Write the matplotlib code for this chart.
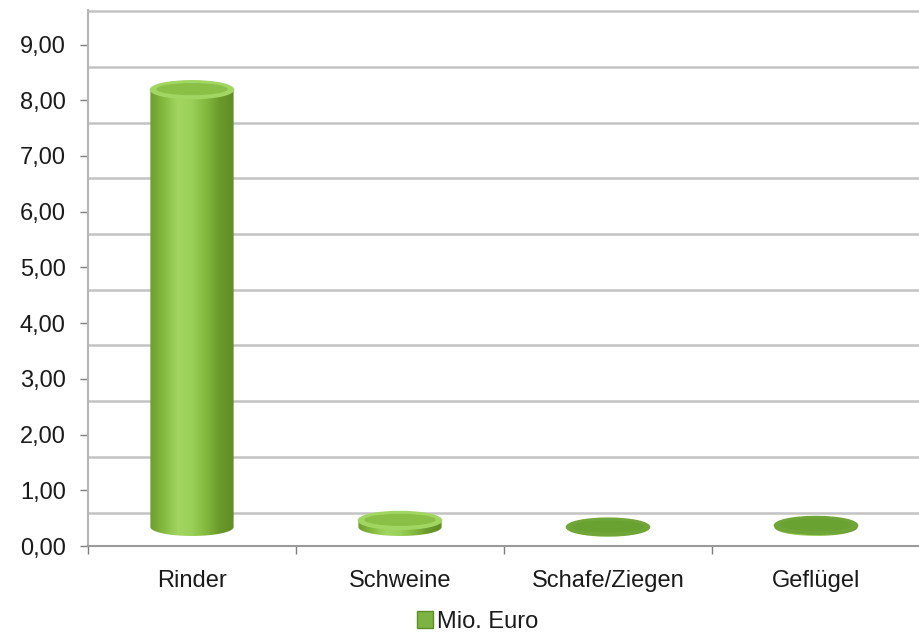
import numpy as np
import matplotlib
matplotlib.use('Agg')
import matplotlib.pyplot as plt
from matplotlib.patches import Ellipse, PathPatch, Patch
from matplotlib.path import Path
from matplotlib.colors import LinearSegmentedColormap

plt.rcParams['font.family'] = ['Liberation Sans', 'DejaVu Sans']

categories = ['Rinder', 'Schweine', 'Schafe/Ziegen', 'Geflügel']
values = [7.85, 0.12, 0.0, 0.03]
yticks = np.arange(0, 10)
legend_label = 'Mio. Euro'

depth = 0.6          # 3D back wall offset (in y units)
base = 0.34          # cylinders stand roughly in the middle of the floor
bar_w = 0.4
ell_h = 0.32

body_cmap = LinearSegmentedColormap.from_list(
    'cyl', ['#6c9e2c', '#86bb42', '#a2d661', '#9bd058', '#84b93f', '#6a9a2b', '#5f8d25'])

fig = plt.figure(figsize=(9.2, 6.37), dpi=100)
ax = fig.add_axes([88 / 920, 91 / 637, 832 / 920, 536 / 637])

# back wall gridlines (shifted up by the wall depth)
for v in yticks:
    ax.axhline(v + depth, color='#c3c3c3', lw=1.8, zorder=1)

grad = np.linspace(0, 1, 200).reshape(1, -1)
for i, val in enumerate(values):
    x0, x1 = i - bar_w / 2, i + bar_w / 2
    top = base + val
    t = np.linspace(np.pi, 2 * np.pi, 60)
    xs = i + bar_w / 2 * np.cos(t)
    ys = base + ell_h / 2 * np.sin(t)
    verts = list(zip(xs, ys)) + [(x1, top), (x0, top), (xs[0], ys[0])]
    codes = [Path.MOVETO] + [Path.LINETO] * (len(verts) - 2) + [Path.CLOSEPOLY]
    clip = PathPatch(Path(verts, codes), facecolor='none', edgecolor='none')
    ax.add_patch(clip)
    im = ax.imshow(grad, cmap=body_cmap, aspect='auto', zorder=3,
                   extent=(x0, x1, base - ell_h / 2, top), interpolation='bilinear')
    im.set_clip_path(clip)
    if val < 0.1:
        rim, face = '#6fa637', '#6aa232'
    else:
        rim, face = '#a2d662', '#8bc047'
    ax.add_patch(Ellipse((i, top), bar_w, ell_h, facecolor=rim,
                         edgecolor=rim, lw=1.0, zorder=4))
    ax.add_patch(Ellipse((i, top + 0.01), bar_w * 0.86, ell_h * 0.68,
                         facecolor=face, edgecolor='none', zorder=5))

ax.set_xlim(-0.5, len(categories) - 0.5)
ax.set_ylim(0, yticks[-1] + depth + 0.02)
ax.set_yticks(yticks)
ax.set_yticklabels([f'{v:.2f}'.replace('.', ',') for v in yticks])
ax.set_xticks(np.arange(len(categories)))
ax.set_xticklabels(categories)
ax.set_xticks(np.arange(len(categories) + 1) - 0.5, minor=True)

ax.tick_params(axis='y', length=6, width=1, color='#7f7f7f', pad=10, labelsize=17, labelcolor='#1a1a1a')
ax.tick_params(axis='x', which='major', length=0, pad=17, labelsize=17, labelcolor='#1a1a1a')
ax.tick_params(axis='x', which='minor', length=6, width=1, color='#7f7f7f')

for s in ['top', 'right']:
    ax.spines[s].set_visible(False)
ax.spines['left'].set_color('#b5b5b5')
ax.spines['left'].set_linewidth(1.5)
ax.spines['bottom'].set_color('#9a9a9a')
ax.spines['bottom'].set_linewidth(1.5)

handle = Patch(facecolor='#7cb342', edgecolor='#5f8d25', label=legend_label)
fig.legend(handles=[handle], loc='center', bbox_to_anchor=(0.519, 0.024), frameon=False,
           fontsize=17, handlelength=0.7, handleheight=0.7, handletextpad=0.15,
           labelcolor='#1a1a1a')

fig.savefig('out.png', dpi=100)
